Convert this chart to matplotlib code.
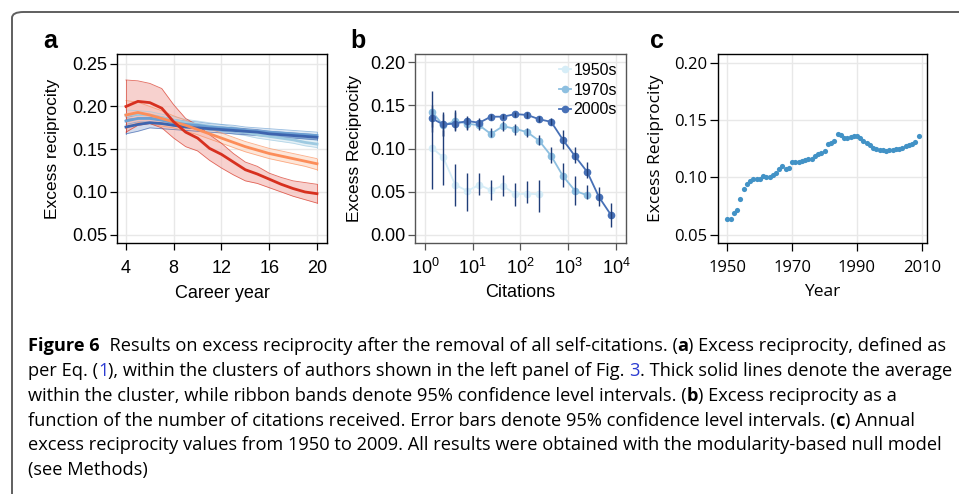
import numpy as np
import matplotlib
matplotlib.use('Agg')
import matplotlib.pyplot as plt
from matplotlib.patches import FancyBboxPatch
from matplotlib.ticker import LogLocator, FixedLocator

# ---- Panel a: excess reciprocity by career year (5 clusters) ----
career_year = np.arange(4, 21)
red_mean = [0.200, 0.206, 0.2045, 0.198, 0.182, 0.170, 0.163, 0.151, 0.144, 0.135, 0.126, 0.121, 0.115, 0.109, 0.104, 0.100, 0.098]
red_hi = [0.231, 0.230, 0.227, 0.221, 0.202, 0.186, 0.178, 0.167, 0.157, 0.145, 0.135, 0.130, 0.122, 0.117, 0.113, 0.111, 0.109]
red_lo = [0.170, 0.178, 0.180, 0.175, 0.163, 0.153, 0.148, 0.137, 0.128, 0.120, 0.113, 0.110, 0.105, 0.100, 0.095, 0.091, 0.087]
orange_mean = [0.190, 0.193, 0.190, 0.186, 0.182, 0.178, 0.173, 0.168, 0.163, 0.158, 0.153, 0.149, 0.145, 0.142, 0.139, 0.136, 0.133]
orange_hi = [0.207, 0.205, 0.200, 0.195, 0.189, 0.184, 0.179, 0.174, 0.169, 0.164, 0.159, 0.155, 0.151, 0.148, 0.145, 0.142, 0.139]
orange_lo = [0.174, 0.181, 0.180, 0.177, 0.175, 0.171, 0.167, 0.162, 0.157, 0.152, 0.147, 0.143, 0.139, 0.136, 0.133, 0.130, 0.126]
lblue_mean = [0.190, 0.191, 0.190, 0.187, 0.184, 0.181, 0.179, 0.177, 0.175, 0.172, 0.170, 0.167, 0.165, 0.163, 0.161, 0.158, 0.156]
lblue_hi = [0.196, 0.195, 0.194, 0.191, 0.188, 0.185, 0.183, 0.181, 0.179, 0.176, 0.174, 0.171, 0.169, 0.167, 0.165, 0.162, 0.160]
lblue_lo = [0.184, 0.186, 0.186, 0.183, 0.180, 0.177, 0.175, 0.173, 0.171, 0.168, 0.166, 0.163, 0.161, 0.159, 0.157, 0.154, 0.152]
mblue_mean = [0.183, 0.186, 0.186, 0.184, 0.181, 0.179, 0.178, 0.176, 0.175, 0.174, 0.172, 0.171, 0.170, 0.169, 0.168, 0.167, 0.166]
mblue_hi = [0.187, 0.190, 0.190, 0.188, 0.185, 0.183, 0.182, 0.180, 0.179, 0.178, 0.176, 0.175, 0.174, 0.173, 0.172, 0.171, 0.170]
mblue_lo = [0.179, 0.182, 0.182, 0.180, 0.177, 0.175, 0.174, 0.172, 0.171, 0.170, 0.168, 0.167, 0.166, 0.165, 0.164, 0.163, 0.162]
dblue_mean = [0.176, 0.179, 0.181, 0.180, 0.178, 0.176, 0.175, 0.174, 0.173, 0.172, 0.171, 0.170, 0.168, 0.167, 0.166, 0.165, 0.164]
dblue_hi = [0.185, 0.186, 0.187, 0.185, 0.182, 0.180, 0.178, 0.177, 0.176, 0.175, 0.174, 0.173, 0.171, 0.170, 0.169, 0.168, 0.167]
dblue_lo = [0.168, 0.171, 0.175, 0.174, 0.173, 0.172, 0.171, 0.170, 0.169, 0.168, 0.167, 0.166, 0.165, 0.164, 0.163, 0.162, 0.161]

# ---- Panel b: excess reciprocity vs citations, by decade ----
citations = [1.4, 2.4, 4.3, 7.7, 13.7, 24, 43, 78, 139, 247, 440, 780, 1400, 2500, 4400, 7900]
r1950 = [0.101, 0.090, 0.058, 0.051, 0.058, 0.052, 0.057, 0.047, 0.048, 0.047]
r1950_lo = [0.053, 0.058, 0.033, 0.028, 0.046, 0.041, 0.045, 0.033, 0.037, 0.027]
r1950_hi = [0.150, 0.122, 0.082, 0.072, 0.072, 0.064, 0.070, 0.060, 0.063, 0.064]
r1970 = [0.143, 0.127, 0.132, 0.129, 0.127, 0.117, 0.126, 0.123, 0.119, 0.109, 0.0915, 0.068, 0.051, 0.046]
r1970_lo = [0.119, 0.115, 0.122, 0.121, 0.122, 0.113, 0.120, 0.116, 0.114, 0.104, 0.083, 0.056, 0.035, 0.042]
r1970_hi = [0.167, 0.140, 0.142, 0.136, 0.133, 0.124, 0.132, 0.128, 0.124, 0.116, 0.102, 0.083, 0.068, 0.058]
r2000 = [0.135, 0.128, 0.129, 0.132, 0.130, 0.137, 0.137, 0.140, 0.139, 0.134, 0.131, 0.110, 0.091, 0.073, 0.044, 0.023]
r2000_lo = [0.125, 0.115, 0.120, 0.123, 0.125, 0.133, 0.134, 0.137, 0.136, 0.131, 0.127, 0.100, 0.083, 0.066, 0.033, 0.009]
r2000_hi = [0.145, 0.142, 0.145, 0.138, 0.135, 0.140, 0.140, 0.143, 0.142, 0.138, 0.135, 0.122, 0.102, 0.085, 0.056, 0.037]

# ---- Panel c: annual excess reciprocity ----
years = np.arange(1950, 2010)
annual = [0.064, 0.064, 0.069, 0.072, 0.081, 0.090, 0.094, 0.097, 0.099, 0.099,
          0.099, 0.101, 0.100, 0.100, 0.102, 0.104, 0.107, 0.110, 0.107, 0.108,
          0.113, 0.113, 0.113, 0.114, 0.115, 0.116, 0.116, 0.119, 0.120, 0.121,
          0.123, 0.129, 0.130, 0.132, 0.138, 0.137, 0.134, 0.134, 0.135, 0.136,
          0.136, 0.134, 0.132, 0.130, 0.128, 0.126, 0.125, 0.124, 0.124, 0.123,
          0.124, 0.124, 0.125, 0.125, 0.126, 0.127, 0.128, 0.129, 0.131, 0.136]

W, H = 959, 494
plt.rcParams['font.family'] = ['Liberation Sans', 'DejaVu Sans']
plt.rcParams['mathtext.fontset'] = 'custom'
plt.rcParams['mathtext.rm'] = 'Liberation Sans'
plt.rcParams['mathtext.it'] = 'Liberation Sans'
plt.rcParams['mathtext.default'] = 'regular'

fig = plt.figure(figsize=(W / 100, H / 100), dpi=100)

def px_axes(left, right, top, bottom):
    return fig.add_axes([left / W, 1 - bottom / H, (right - left) / W, (bottom - top) / H])

# outer rounded frame
frame = FancyBboxPatch((12 / W, -0.1), 1.2, 1.1 - 12 / H,
                       boxstyle='round,pad=0,rounding_size=0.012',
                       transform=fig.transFigure, fill=False, ec='#5f5f5f', lw=1.4)
fig.patches.append(frame)

grid_c = '#e8e8e8'

def style(ax, spine_c='black', tick_c='black', size=13):
    ax.grid(True, color=grid_c, lw=1)
    ax.set_axisbelow(True)
    for s in ax.spines.values():
        s.set_color(spine_c)
        s.set_linewidth(1.0)
    ax.tick_params(direction='out', length=5, width=0.9, color=tick_c, labelsize=size)
    ax.tick_params(axis='y', pad=2)
    ax.tick_params(axis='x', pad=7)

# ---- a ----
ax = px_axes(117, 327, 54, 243)
bands = [
    (lblue_mean, lblue_lo, lblue_hi, '#9ecae1', '#d5e8f3'),
    (mblue_mean, mblue_lo, mblue_hi, '#6b9fd2', '#c5d9ee'),
    (dblue_mean, dblue_lo, dblue_hi, '#3d64ae', '#b5c6e3'),
    (orange_mean, orange_lo, orange_hi, '#fc8d59', '#fdd7c2'),
    (red_mean, red_lo, red_hi, '#d7301f', '#f3b3ae'),
]
for m, lo, hi, c, fc in bands:
    ax.fill_between(career_year, lo, hi, color=fc, alpha=0.6, lw=0)
    ax.plot(career_year, lo, color=c, lw=0.6, alpha=0.7)
    ax.plot(career_year, hi, color=c, lw=0.6, alpha=0.7)
    ax.plot([4, 4], [lo[0], hi[0]], color=c, lw=0.6, alpha=0.7)
    ax.plot([20, 20], [lo[-1], hi[-1]], color=c, lw=0.6, alpha=0.7)
for m, lo, hi, c, fc in bands:
    ax.plot(career_year, m, color=c, lw=2.0)
ax.set_xlim(3.25, 20.84)
ax.set_ylim(0.0403, 0.2614)
ax.set_xticks([4, 8, 12, 16, 20])
ax.set_yticks([0.05, 0.10, 0.15, 0.20, 0.25])
ax.set_yticklabels(['0.05', '0.10', '0.15', '0.20', '0.25'])
style(ax)
ax.set_xlabel('Career year', fontsize=13, labelpad=6)
ax.set_ylabel('Excess reciprocity', fontsize=12.5, labelpad=9)

# ---- b ----
ax = px_axes(415, 626, 54, 243)
series = [
    (r1950, r1950_lo, r1950_hi, '#d6edf7', '1950s'),
    (r1970, r1970_lo, r1970_hi, '#8dbfe0', '1970s'),
    (r2000, r2000_lo, r2000_hi, '#4770b6', '2000s'),
]
for vals, lo, hi, c, lab in series:
    x = citations[:len(vals)]
    ax.plot(x, vals, '-o', color=c, lw=1.3, ms=4.5, label=lab, zorder=3)
for vals, lo, hi, c, lab in series:
    x = citations[:len(vals)]
    ax.vlines(x, lo, hi, color='#1f3d78', lw=1.0, zorder=4)
ax.set_xscale('log')
ax.set_xlim(10 ** -0.209, 10 ** 4.21)
ax.set_ylim(-0.0093, 0.2096)
ax.xaxis.set_major_locator(LogLocator(base=10, numticks=10))
ax.xaxis.set_minor_locator(FixedLocator([]))
ax.set_yticks([0.0, 0.05, 0.10, 0.15, 0.20])
ax.set_yticklabels(['0.00', '0.05', '0.10', '0.15', '0.20'])
style(ax, spine_c='#555555', tick_c='#555555')
ax.tick_params(axis='x', pad=6)
ax.set_xlabel('Citations', fontsize=13, labelpad=4)
ax.set_ylabel('Excess Reciprocity', fontsize=12.5, labelpad=6)
ax.legend(loc='upper right', frameon=False, fontsize=11.5, handlelength=0.8,
          handletextpad=0.15, labelspacing=0.3, borderaxespad=0.15,
          bbox_to_anchor=(1.0, 1.0))

# ---- c ----
ax = px_axes(718, 927, 54, 243)
ax.scatter(years, annual, s=14, color='#4292c6', lw=0, zorder=3)
ax.set_xlim(1947.1, 2011.6)
ax.set_ylim(0.0428, 0.2076)
ax.set_xticks([1950, 1970, 1990, 2010])
ax.set_yticks([0.05, 0.10, 0.15, 0.20])
ax.set_yticklabels(['0.05', '0.10', '0.15', '0.20'])
style(ax, size=12)
ax.tick_params(length=6)
ax.tick_params(axis='x', pad=6)
for lab in ax.get_xticklabels() + ax.get_yticklabels():
    lab.set_fontfamily('Open Sans')
    lab.set_fontsize(12)
ax.set_xlabel('Year', fontsize=12.5, family='Open Sans', labelpad=6)
ax.set_ylabel('Excess Reciprocity', fontsize=12.5, family='Open Sans', labelpad=7)

# panel letters
for x, letter in [(43, 'a'), (350, 'b'), (650, 'c')]:
    fig.text(x / W, 1 - 48 / H, letter, fontsize=18, fontweight='bold')

# ---- caption ----
blue_link = '#2b3bd1'
caption_lines = [
    [('Figure 6', 'bold', 'black'), ('  Results on excess reciprocity after the removal of all self-citations. (', 'normal', 'black'),
     ('a', 'bold', 'black'), (') Excess reciprocity, defined as', 'normal', 'black')],
    [('per Eq. (', 'normal', 'black'), ('1', 'normal', blue_link),
     ('), within the clusters of authors shown in the left panel of Fig. ', 'normal', 'black'),
     ('3', 'normal', blue_link), ('. Thick solid lines denote the average', 'normal', 'black')],
    [('within the cluster, while ribbon bands denote 95% confidence level intervals. (', 'normal', 'black'),
     ('b', 'bold', 'black'), (') Excess reciprocity as a', 'normal', 'black')],
    [('function of the number of citations received. Error bars denote 95% confidence level intervals. (', 'normal', 'black'),
     ('c', 'bold', 'black'), (') Annual', 'normal', 'black')],
    [('excess reciprocity values from 1950 to 2009. All results were obtained with the modularity-based null model', 'normal', 'black')],
    [('(see Methods)', 'normal', 'black')],
]
cap_size = 13.15
cap_font = ['Open Sans', 'DejaVu Sans']
renderer = fig.canvas.get_renderer()

def text_width(s, weight):
    t = fig.text(0, 0, s, fontsize=cap_size, family=cap_font, fontweight=weight)
    w = t.get_window_extent(renderer).width
    t.remove()
    return w

baselines = [351, 376, 401, 426, 450, 475]
for line, yb in zip(caption_lines, baselines):
    xpos = 28.0
    for s, weight, color in line:
        fig.text(xpos / W, 1 - yb / H, s, fontsize=cap_size, family=cap_font,
                 fontweight=weight, color=color, va='baseline')
        xpos += text_width('|' + s + '|', weight) - text_width('||', weight)

fig.savefig('out.png', dpi=100)
